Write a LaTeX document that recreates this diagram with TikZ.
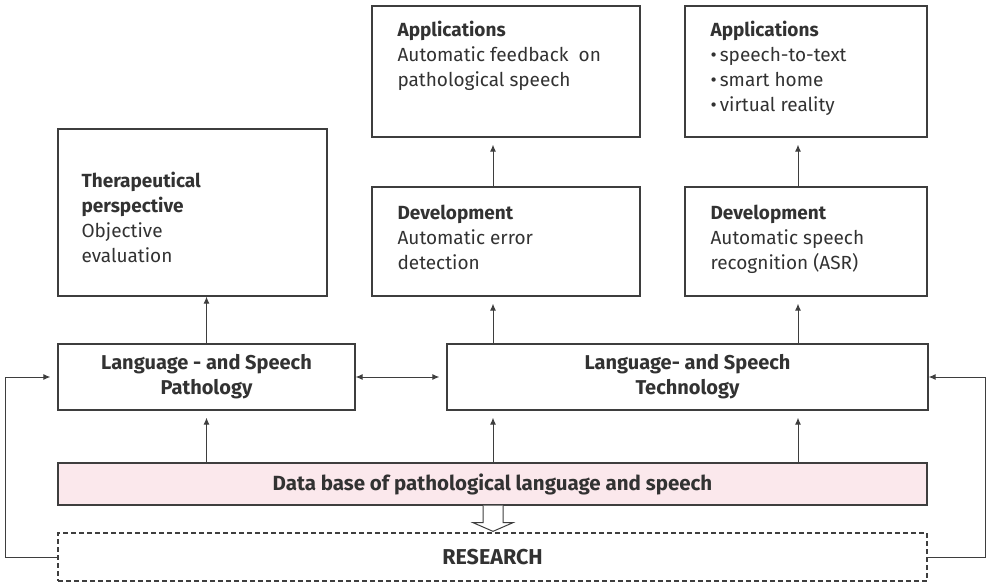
\documentclass[tikz,border=0pt]{standalone}
\usepackage{fontspec}
\setmainfont{Fira Sans}
\usetikzlibrary{arrows.meta,calc,fit}

\definecolor{ink}{RGB}{62,62,62}
\definecolor{txtc}{RGB}{50,50,50}
\definecolor{dbfill}{RGB}{251,232,236}

\tikzset{
  box/.style={draw=ink, line width=1.3pt, inner sep=0pt},
  dashbox/.style={draw=ink, line width=1.3pt, inner sep=0pt, dash pattern=on 5pt off 3pt},
  txt/.style={text=txtc, align=left, inner sep=0pt, font=\fontsize{19}{25}\selectfont},
  ctxt/.style={text=txtc, align=center, inner sep=0pt, font=\fontsize{20}{25}\selectfont\bfseries},
  arr/.style={draw=ink, line width=1pt, -{Latex[length=7pt,width=6pt]}},
  arrgap/.style={arr, shorten >=7pt},
}

\begin{document}
\begin{tikzpicture}[x=1pt,y=-1pt]
\useasboundingbox (0,0) rectangle (987,584);

% boxes
\node[box, fit={(372,6) (640,137)}] (app1) {};
\node[box, fit={(685,6) (927,137)}] (app2) {};
\node[box, fit={(58,129) (327,296)}] (thera) {};
\node[box, fit={(372,187) (640,296)}] (dev1) {};
\node[box, fit={(685,187) (927,296)}] (dev2) {};
\node[box, fit={(58,344) (355,410)}] (patho) {};
\node[box, fit={(447,344) (928,410)}] (tech) {};
\node[box, fill=dbfill, fit={(58,463) (927,505)}] (db) {};
\node[dashbox, fit={(58,533) (927,581)}] (res) {};

% texts
\node[txt, anchor=north west] (app1t) at ($(app1.north west)+(26,16)$)
  {\textbf{Applications}\\Automatic feedback\ \ on\\pathological speech};
\node[txt, anchor=north west] (app2t) at ($(app2.north west)+(26,16)$)
  {\textbf{Applications}\\\textbullet\,speech-to-text\\\textbullet\,smart home\\\textbullet\,virtual reality};
\node[txt, anchor=west] (therat) at ($(thera.west)+(24,5)$)
  {\textbf{Therapeutical}\\\textbf{perspective}\\Objective\\evaluation};
\node[txt, anchor=north west] (dev1t) at ($(dev1.north west)+(26,19)$)
  {\textbf{Development}\\Automatic error\\detection};
\node[txt, anchor=north west] (dev2t) at ($(dev2.north west)+(26,19)$)
  {\textbf{Development}\\Automatic speech\\recognition (ASR)};
\node[ctxt] (pathot) at (patho.center) {Language - and Speech\\Pathology};
\node[ctxt] (techt) at (tech.center) {Language- and Speech\\Technology};
\node[ctxt, font=\fontsize{20.5}{25}\selectfont\bfseries] (dbt) at (db.center)
  {Data base of pathological language and speech};
\node[ctxt, font=\fontsize{21.5}{25}\selectfont\bfseries] (rest) at (res.center) {RESEARCH};

% connector columns
\coordinate (c1) at (493,0);
\coordinate (c2) at (798,0);
\coordinate (rc) at (985,0);
\coordinate (lc) at (5,0);

% upward arrows
\draw[arrgap] (patho.south |- db.north) -- (patho.south);
\draw[arrgap] (c1 |- db.north) -- (c1 |- tech.south);
\draw[arrgap] (c2 |- db.north) -- (c2 |- tech.south);
\draw[arr] (patho.north) -- (patho.north |- thera.south);
\draw[arrgap] (c1 |- tech.north) -- (c1 |- dev1.south);
\draw[arrgap] (c2 |- tech.north) -- (c2 |- dev2.south);
\draw[arrgap] (c1 |- dev1.north) -- (c1 |- app1.south);
\draw[arrgap] (c2 |- dev2.north) -- (c2 |- app2.south);

% two-way link
\draw[arr, {Latex[length=7pt,width=6pt]}-{Latex[length=7pt,width=6pt]}, shorten >=7pt]
  (patho.east) -- (tech.west);

% feedback loops from research
\draw[arrgap] (res.west) -- (lc |- res.west) -- (lc |- patho.west) -- (patho.west);
\draw[arr] (res.east) -- (rc |- res.east) -- (rc |- tech.east) -- (tech.east);

% hollow arrow from data base to research
\draw[draw=ink, line width=1pt, fill=white]
  ($(c1 |- db.south)+(-10,0)$) -- ++(0,17) -- ++(-10,0) -- ($(c1 |- res.north)+(0,-1)$)
  -- ($(c1 |- db.south)+(20,17)$) -- ++(-10,0) -- ++(0,-17);
\end{tikzpicture}
\end{document}
